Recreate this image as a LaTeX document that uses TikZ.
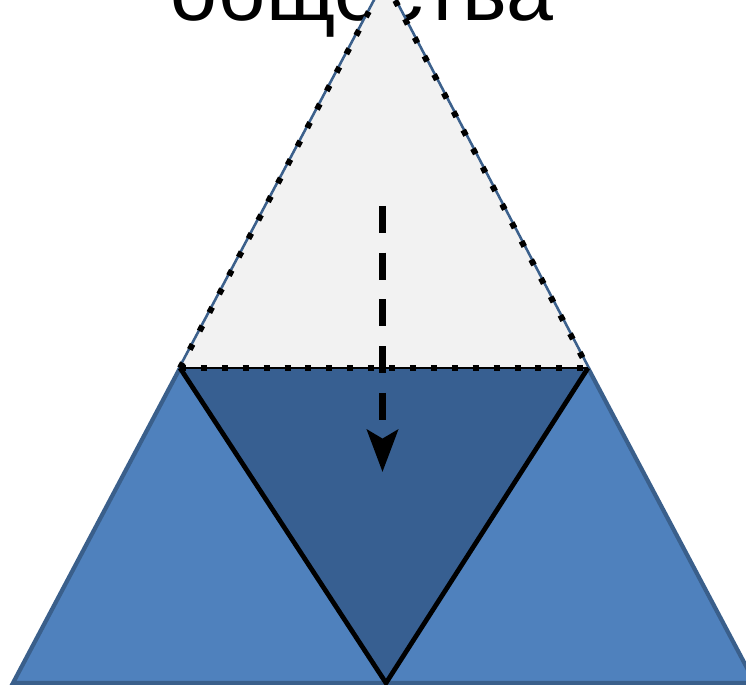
\documentclass[tikz,border=0pt]{standalone}
\usepackage{fontspec}
\setmainfont{Liberation Sans}
\usetikzlibrary{arrows.meta}
\definecolor{lightblue}{HTML}{4F81BD}
\definecolor{darkblue}{HTML}{375F91}
\definecolor{edgeblue}{HTML}{3A5F8B}
\definecolor{topgray}{HTML}{F2F2F2}
\begin{document}
\begin{tikzpicture}[x=0.02cm, y=-0.02cm, >=Stealth,
  dotline/.style={line width=3.4pt, dash pattern=on 3.4pt off 8.5pt},
  sideline/.style={line width=2.4pt, line join=miter}]
  \clip (0,0) rectangle (746,685);
  \useasboundingbox (0,0) rectangle (746,685);
  % corners
  \coordinate (apex) at (385,-19);
  \coordinate (bl) at (13,683);  \coordinate (br) at (755,683);
  \coordinate (ml) at (180,368); \coordinate (mr) at (588,368);
  \coordinate (bm) at (386,683);
  \node[anchor=base] (title) at (362,21) {\fontsize{48}{58}\selectfont общества};
  % big triangle
  \draw[fill=lightblue, draw=edgeblue, sideline] (bl)--(ml)--(apex)--(mr)--(br)--cycle;
  % top part
  \fill[topgray] (ml)--(apex)--(mr)--cycle;
  \draw[edgeblue, line width=0.5pt] (ml)--(apex)--(mr);
  \draw[dotline] (ml)--(apex)--(mr);
  % middle part
  \fill[darkblue] (ml)--(mr)--(bm)--cycle;
  \draw[line width=2.7pt, line join=miter] (ml)--(bm)--(mr);
  \draw[line width=1pt] (ml)--(mr);
  \draw[dotline] (ml)--(mr);
  % arrow
  \coordinate (from) at (382.5,206); \coordinate (to) at (382.5,472);
  \draw[->, line width=4pt, dash pattern=on 15.3pt off 11.3pt,
    -{Stealth[length=24pt, width=17.6pt, inset=5pt]}] (from)--(to);
\end{tikzpicture}
\end{document}
